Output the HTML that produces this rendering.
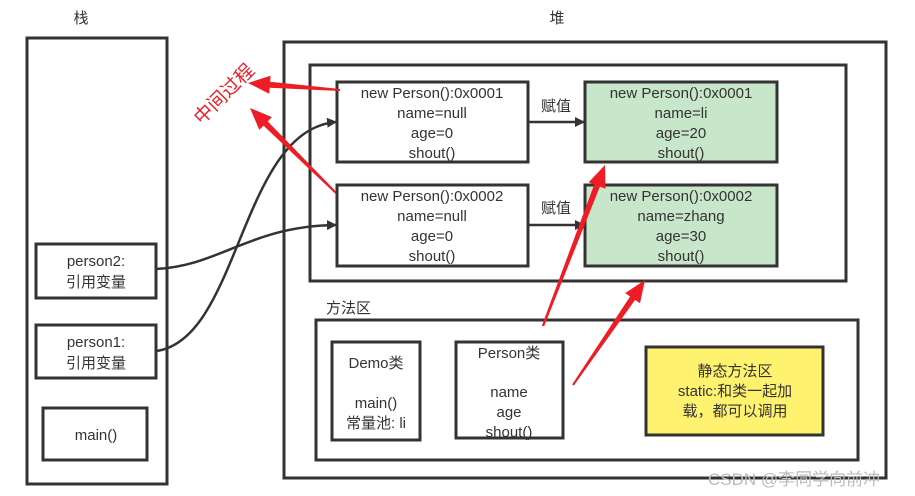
<!DOCTYPE html>
<html><head><meta charset="utf-8"><style>
html,body{margin:0;padding:0;background:#fff;}
svg{display:block;}
text{font-family:"Liberation Sans","Noto Sans CJK SC",sans-serif;font-size:15px;fill:#333;}
</style></head><body>
<svg width="915" height="496" viewBox="0 0 915 496" xmlns="http://www.w3.org/2000/svg">
<defs>
<marker id="ah" markerWidth="10" markerHeight="10" refX="9" refY="5" orient="auto" markerUnits="userSpaceOnUse"><path d="M0,0 L10,5 L0,10 Z" fill="#333"/></marker>
</defs>
<g fill="none" stroke="#333" stroke-width="3">
<rect x="27" y="38" width="140" height="446"/>
<rect x="284" y="42" width="602" height="436"/>
<rect x="310" y="65" width="536" height="216"/>
<rect x="337" y="82" width="191" height="80" fill="#fff"/>
<rect x="337" y="185" width="191" height="81" fill="#fff"/>
<rect x="585" y="82" width="192" height="80" fill="#c8e6c9"/>
<rect x="585" y="185" width="192" height="81" fill="#c8e6c9"/>
<rect x="316" y="320" width="542" height="140"/>
<rect x="332" y="342" width="88" height="98"/>
<rect x="456" y="342" width="107" height="96"/>
<rect x="646" y="347" width="177" height="88" fill="#fff26e"/>
<rect x="36" y="244" width="120" height="54"/>
<rect x="36" y="325" width="120" height="53"/>
<rect x="43" y="408" width="104" height="52"/>
</g>
<g fill="none" stroke="#333" stroke-width="2.5">
<path d="M528,122 L584,122" marker-end="url(#ah)"/>
<path d="M528,225 L584,225" marker-end="url(#ah)"/>
<path d="M156,269 C220,266 250,226 336,225" marker-end="url(#ah)"/>
<path d="M156,351 C240,340 240,130 336,122" marker-end="url(#ah)"/>
</g>
<g fill="#ee1c25">
<polygon points="340.1,89 270.1,81.7 270.6,75.7 248,83 269.2,93.7 269.7,87.7 339.9,91"/>
<polygon points="336.7,192.3 267.7,121.4 271.9,117.1 250,108 259.3,129.9 263.5,125.6 335.3,193.7"/>
<polygon points="544.1,326.4 599.9,186.6 605.5,188.7 605,165 588.7,182.3 594.3,184.4 541.9,325.6"/>
<polygon points="573.8,385.6 635.1,299.9 640,303.3 645,280 625.2,293.1 630.1,296.5 572.2,384.4"/>
</g>
<text x="225" y="100" transform="rotate(-45 225 95)" text-anchor="middle" style="fill:#ee1c25;font-size:19px">中间过程</text>
<g text-anchor="middle">
<text x="81" y="23">栈</text>
<text x="557" y="23">堆</text>
<text x="432" y="98">new Person():0x0001</text>
<text x="432" y="118">name=null</text>
<text x="432" y="138">age=0</text>
<text x="432" y="158">shout()</text>
<text x="432" y="201">new Person():0x0002</text>
<text x="432" y="221">name=null</text>
<text x="432" y="241">age=0</text>
<text x="432" y="261">shout()</text>
<text x="681" y="98">new Person():0x0001</text>
<text x="681" y="118">name=li</text>
<text x="681" y="138">age=20</text>
<text x="681" y="158">shout()</text>
<text x="681" y="201">new Person():0x0002</text>
<text x="681" y="221">name=zhang</text>
<text x="681" y="241">age=30</text>
<text x="681" y="261">shout()</text>
<text x="556" y="111">赋值</text>
<text x="556" y="213">赋值</text>
<text x="376" y="368">Demo类</text>
<text x="376" y="408">main()</text>
<text x="376" y="428">常量池: li</text>
<text x="509" y="358">Person类</text>
<text x="509" y="397">name</text>
<text x="509" y="417">age</text>
<text x="509" y="437">shout()</text>
<text x="735" y="376">静态方法区</text>
<text x="735" y="396">static:和类一起加</text>
<text x="735" y="416">载，都可以调用</text>
<text x="96" y="266">person2:</text>
<text x="96" y="287">引用变量</text>
<text x="96" y="347">person1:</text>
<text x="96" y="368">引用变量</text>
<text x="96" y="440">main()</text>
</g>
<text x="326" y="313">方法区</text>
<text x="708" y="485" style="fill:#bbb;font-size:17px">CSDN @李同学向前冲</text>
</svg>
</body></html>
